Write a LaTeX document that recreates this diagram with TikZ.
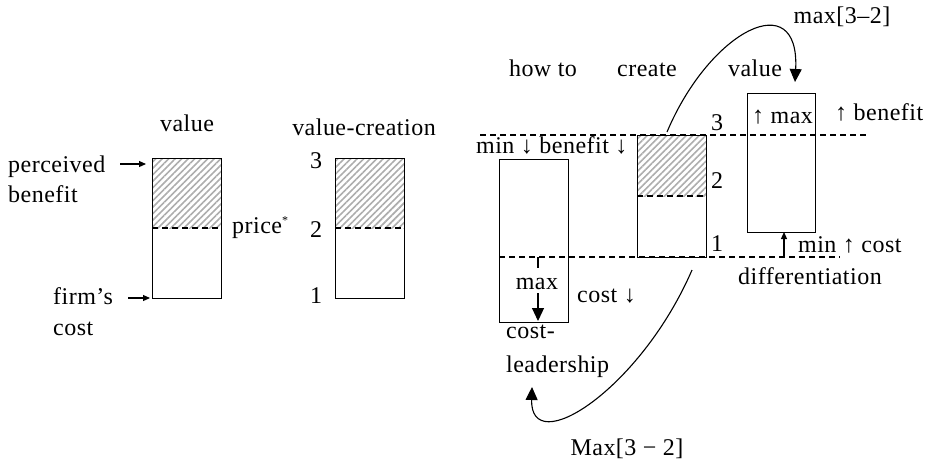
\documentclass[tikz,border=0pt]{standalone}
\usepackage{fontspec}
\setmainfont[LetterSpace=2]{Liberation Serif}
\usetikzlibrary{arrows.meta,patterns.meta}
\begin{document}
\begin{tikzpicture}[x=1pt,y=-1pt,
  txt/.style={font=\fontsize{24}{28}\selectfont, inner sep=0pt},
  box/.style={draw, line width=1.1pt, inner sep=0pt, anchor=north west},
  dashline/.style={line width=1.1pt, dash pattern=on 6pt off 4pt},
  hatch/.style={pattern={Lines[angle=45,distance=4.6pt,line width=1.6pt]}, pattern color=black!32},
  bigtip/.style={-{Triangle[length=13pt,width=12pt]}, line width=1.1pt},
  smalltip/.style={-{Triangle[length=7pt,width=6pt]}, line width=1.1pt},
]
\useasboundingbox (0,0) rectangle (925,464);

% ---------- left: value ----------
\fill[hatch] (152,158) rectangle (221,228);
\node[box, minimum width=69pt, minimum height=140pt] (b1) at (152,158) {};
\draw[dashline] (152,228) -- (221,228);

\node[txt, anchor=base] (tvalue) at (187,131) {value};
\node[txt, anchor=base west] (perc) at (8,172) {perceived};
\node[txt, anchor=base west] (perc2) at (8,202) {benefit};
\coordinate (pa1) at (120,164);
\coordinate (pa2) at (146,164);
\draw[smalltip] (pa1) -- (pa2);
\node[txt, anchor=base west] (firm) at (53,304) {firm’s};
\node[txt, anchor=base west] (firm2) at (53,335) {cost};
\coordinate (fa1) at (128,298);
\coordinate (fa2) at (150,298);
\draw[smalltip] (fa1) -- (fa2);
\node[txt, anchor=base west] (price) at (232,233) {price\raisebox{9pt}{\fontsize{12}{12}\selectfont *}};

% ---------- left: value-creation ----------
\fill[hatch] (335,158) rectangle (404,228);
\node[box, minimum width=69pt, minimum height=140pt] (b2) at (335,158) {};
\draw[dashline] (335,228) -- (404,228);
\node[txt, anchor=base] (tvc) at (364,135) {value-creation};
\node[txt, anchor=base] (n3) at (316,168) {3};
\node[txt, anchor=base] (n2) at (316,237) {2};
\node[txt, anchor=base] (n1) at (316,303) {1};

% ---------- right ----------
\node[txt, anchor=base] (howto) at (543,76) {how to};
\node[txt, anchor=base] (create) at (647,76) {create};
\node[txt, anchor=base] (rvalue) at (755,76) {value};
\node[txt, anchor=base] (maxtop) at (842,23) {max[3–2]};

% dashed guide lines
\draw[dashline] (480,135) -- (868,135);
\draw[dashline] (499,257) -- (840,257);

% box A (cost leadership)
\node[box, minimum width=69pt, minimum height=163pt] (bA) at (499,159) {};
% box B (create)
\fill[hatch] (637,135) rectangle (706,196);
\node[box, minimum width=69pt, minimum height=122pt] (bB) at (637,135) {};
\draw[dashline] (637,196) -- (706,196);
% box C (differentiation)
\node[box, minimum width=68pt, minimum height=139pt] (bC) at (747,93) {};

\node[txt, anchor=base] (r3) at (717,130) {3};
\node[txt, anchor=base] (r2) at (717,188) {2};
\node[txt, anchor=base] (r1) at (717,251) {1};

\node[txt, anchor=base west] (minben) at (476,153) {min ↓ benefit ↓};
\node[txt, anchor=base west] (upmax) at (752,123) {↑ max};
\node[txt, anchor=base west] (upben) at (835,120) {↑ benefit};

% box A inner arrow
\node[txt, anchor=base, inner ysep=4pt] (amax) at (537,289) {max};
\coordinate (aTop) at (538,257);
\coordinate (aBot) at (538,321);
\draw[line width=1.1pt] (aTop) -- (538,268);
\draw[bigtip] (538,293) -- (aBot);
\node[txt, anchor=base west] (costdn) at (577,302) {cost ↓};
\node[txt, anchor=base west] (cl1) at (506,338) {cost-};
\node[txt, anchor=base west] (cl2) at (506,372) {leadership};

% box C lower
\coordinate (cmin1) at (784,257);
\coordinate (cmin2) at (784,232);
\draw[smalltip] (cmin1) -- (cmin2);
\node[txt, anchor=base west] (mincost) at (798,252) {min ↑ cost};
\node[txt, anchor=base west] (diff) at (738,284) {differentiation};

% curved arrows
\coordinate (c1s) at (667,132);
\coordinate (c1e) at (795,82);
\draw[bigtip] (c1s) .. controls (710,30) and (800,-15) .. (c1e);
\coordinate (c2s) at (692,270);
\coordinate (c2e) at (532,387);
\draw[bigtip] (c2s) .. controls (640,390) and (530,460) .. (c2e);
\node[txt, anchor=base] (maxbot) at (627,455) {Max[3 − 2]};
\end{tikzpicture}
\end{document}
